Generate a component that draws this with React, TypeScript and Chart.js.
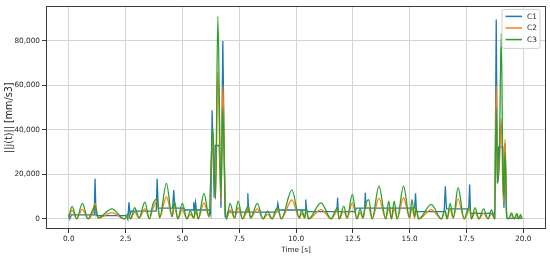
import React, { useEffect, useRef } from "react";
import { Chart, registerables } from "chart.js";
Chart.register(...registerables);

// ---- data ----
const humpTimes = [
  0.0, 0.15, 0.35, 0.6, 0.85, 1.05, 1.16, 1.3, 1.9, 2.45, 2.62, 2.72, 2.9, 3.1, 3.35, 3.55, 3.7, 3.89, 4.0, 4.3,
  4.55, 4.65, 4.8, 5.0, 5.2, 5.35, 5.5, 5.6, 5.7, 5.95, 6.18, 6.28, 6.34, 6.46, 6.56, 6.7, 6.78, 6.9, 6.95, 7.1,
  7.3, 7.45, 7.65, 7.8, 7.9, 8.0, 8.3, 8.55, 8.75, 8.95, 9.1, 9.2, 9.35, 9.82, 10.15, 10.25, 10.38, 10.45, 10.55, 11.1,
  11.55, 11.7, 11.82, 11.9, 12.1, 12.25, 12.48, 12.68, 12.82, 12.95, 13.05, 13.2, 13.35, 13.65, 13.95, 14.08, 14.2, 14.32, 14.45, 14.73,
  15.0, 15.1, 15.22, 15.28, 15.4, 15.95, 16.4, 16.55, 16.65, 16.78, 16.92, 17.13, 17.4, 17.55, 17.64, 17.72, 17.88, 18.05, 18.25, 18.45,
  18.6, 18.74, 18.81, 18.87, 18.95, 19.03, 19.12, 19.2, 19.27, 19.35, 19.48, 19.6, 19.72, 19.8, 19.88, 19.95,
];
const c3Values = [
  500, 5600, 0, 7000, 0, 4000, 6000, 500, 4500, 0, 2500, 0, 5000, 500, 7500, 0, 6500, 9000, 500, 16000,
  1000, 8000, 0, 7000, 0, 3500, 500, 5000, 0, 11500, 1000, 30000, 40700, 9000, 91000, 10000, 50000, 2000, 500, 7000,
  500, 8000, 0, 4000, 6000, 500, 7000, 0, 3500, 0, 4000, 5000, 0, 13000, 500, 4200, 500, 5000, 0, 7200,
  0, 3000, 5000, 0, 5700, 500, 11000, 0, 4500, 500, 6000, 8700, 0, 14700, 0, 8000, 0, 8000, 0, 14700,
  500, 8700, 1000, 5000, 0, 6500, 0, 4000, 0, 7000, 500, 14000, 0, 4000, 6000, 0, 5000, 0, 4500, 0,
  4000, 0, 50000, 16000, 30000, 83500, 10000, 30000, 1000, 0, 2700, 0, 2500, 0, 2000, 0,
];
const c2Values = [
  300, 3800, 0, 4300, 0, 2500, 7000, 300, 2800, 0, 1500, 0, 3000, 300, 4500, 0, 4500, 8000, 500, 10000,
  1000, 6000, 0, 4200, 0, 2000, 400, 3000, 0, 7200, 800, 26000, 36000, 9000, 66000, 8000, 60000, 2000, 300, 4000,
  300, 5000, 0, 2500, 5000, 300, 4500, 0, 2000, 0, 2500, 4000, 0, 8500, 300, 2500, 300, 4000, 0, 4200,
  0, 2000, 4500, 0, 3500, 300, 7200, 0, 2800, 300, 5000, 5000, 0, 9300, 0, 4800, 0, 4800, 0, 9500,
  300, 5000, 500, 4000, 0, 4200, 0, 3500, 0, 4500, 300, 9000, 0, 2500, 5000, 0, 3000, 0, 2500, 0,
  2300, 0, 60000, 16000, 25000, 45000, 8000, 35800, 1000, 0, 1700, 0, 1600, 0, 1200, 0,
];
const c1Times = [
  0.0, 0.05, 0.12, 1.12, 1.16, 1.2, 2.55, 2.6, 2.65, 2.7, 2.75, 3.85, 3.89, 3.94, 4.57, 4.62, 4.67, 5.05, 5.1, 5.48,
  5.5, 5.53, 5.58, 5.62, 6.2, 6.25, 6.31, 6.4, 6.45, 6.62, 6.7, 6.78, 6.88, 6.95, 7.0, 7.85, 7.88, 7.92, 9.15, 9.2,
  9.25, 10.4, 10.43, 10.47, 11.8, 11.83, 11.86, 12.6, 12.65, 13.02, 13.05, 13.08, 15.22, 15.26, 15.3, 16.52, 16.57, 16.62, 17.6, 17.64,
  17.68, 18.72, 18.75, 18.81, 18.86, 18.92, 19.1, 19.15, 19.2, 19.27, 19.32, 19.9,
];
const c1Values = [
  2000, 0, 1800, 1800, 18000, 1500, 1500, 0, 7500, 2000, 3500, 3500, 18000, 4800, 4800, 13000, 4800, 4800, 4000, 4000,
  7500, 4000, 7500, 4000, 4000, 2000, 48800, 9500, 33000, 33000, 5000, 80000, 1000, 0, 3000, 3000, 11500, 3000, 3000, 7000,
  4000, 4000, 8700, 3300, 3300, 9500, 3300, 3300, 4800, 4800, 11700, 4800, 4800, 11500, 3300, 3300, 14700, 4500, 4500, 15500,
  2500, 2500, 0, 89700, 16000, 32400, 32400, 5000, 34000, 500, 200, 200,
];
const yTickValues = [0, 20000, 40000, 60000, 80000];
const xTickValues = [0, 2.5, 5, 7.5, 10, 12.5, 15, 17.5, 20];
const seriesNames = ["C1", "C2", "C3"];
const seriesColors = ["#1f77b4", "#ff7f0e", "#2ca02c"];

const FONT_FAMILY = "'DejaVu Sans', sans-serif";
const TEXT_COLOR = "#262626";
const GRID_COLOR = "#d4d4d4";

const framePlugin = {
  id: "frame",
  afterDatasetsDraw(chart: any) {
    const { ctx, chartArea } = chart;
    ctx.save();
    ctx.strokeStyle = "#3a3a3a";
    ctx.lineWidth = 1;
    ctx.strokeRect(
      Math.round(chartArea.left) + 0.5,
      Math.round(chartArea.top) + 0.5,
      Math.round(chartArea.right - chartArea.left) - 1,
      Math.round(chartArea.bottom - chartArea.top) - 1
    );
    ctx.restore();
  },
};

const legendPlugin = {
  id: "mplLegend",
  afterDraw(chart: any) {
    const { ctx, chartArea } = chart;
    const w = 38;
    const h = 39;
    const x = chartArea.right - 6 - w;
    const y = chartArea.top + 3;
    ctx.save();
    ctx.beginPath();
    const r = 2;
    ctx.moveTo(x + r, y);
    ctx.lineTo(x + w - r, y);
    ctx.quadraticCurveTo(x + w, y, x + w, y + r);
    ctx.lineTo(x + w, y + h - r);
    ctx.quadraticCurveTo(x + w, y + h, x + w - r, y + h);
    ctx.lineTo(x + r, y + h);
    ctx.quadraticCurveTo(x, y + h, x, y + h - r);
    ctx.lineTo(x, y + r);
    ctx.quadraticCurveTo(x, y, x + r, y);
    ctx.closePath();
    ctx.fillStyle = "rgba(255,255,255,0.85)";
    ctx.fill();
    ctx.strokeStyle = "#d0d0d0";
    ctx.lineWidth = 1;
    ctx.stroke();
    ctx.font = `7.4px ${FONT_FAMILY}`;
    ctx.textBaseline = "middle";
    ctx.textAlign = "left";
    seriesNames.forEach((name, i) => {
      const ly = y + 7 + i * 11.6;
      ctx.strokeStyle = seriesColors[i];
      ctx.lineWidth = 1.5;
      ctx.beginPath();
      ctx.moveTo(x + 3.5, ly);
      ctx.lineTo(x + 20, ly);
      ctx.stroke();
      ctx.fillStyle = TEXT_COLOR;
      ctx.fillText(name, x + 25, ly + 0.5);
    });
    ctx.restore();
  },
};

export default function App() {
  const canvasRef = useRef<HTMLCanvasElement | null>(null);

  useEffect(() => {
    document.body.style.margin = "0";
    const canvas = canvasRef.current;
    if (!canvas) return;
    const font = { family: FONT_FAMILY, size: 7.3 };
    const hump = (vals: number[]) => humpTimes.map((t, i) => ({ x: t, y: vals[i] }));
    const chart = new Chart(canvas, {
      type: "line",
      data: {
        datasets: [
          {
            label: seriesNames[0],
            data: c1Times.map((t, i) => ({ x: t, y: c1Values[i] })),
            borderColor: seriesColors[0],
            borderWidth: 1.3,
            pointRadius: 0,
            tension: 0,
            order: 3,
          },
          {
            label: seriesNames[1],
            data: hump(c2Values),
            borderColor: seriesColors[1],
            borderWidth: 1.3,
            pointRadius: 0,
            cubicInterpolationMode: "monotone",
            order: 2,
          },
          {
            label: seriesNames[2],
            data: hump(c3Values),
            borderColor: seriesColors[2],
            borderWidth: 1.3,
            pointRadius: 0,
            cubicInterpolationMode: "monotone",
            order: 1,
          },
        ],
      },
      options: {
        animation: false,
        responsive: false,
        maintainAspectRatio: false,
        parsing: false as any,
        layout: { padding: { top: 5, right: 4, left: 0, bottom: 0 } },
        plugins: { legend: { display: false }, tooltip: { enabled: false } },
        elements: { point: { radius: 0 } },
        scales: {
          x: {
            type: "linear",
            min: -1,
            max: 21,
            afterBuildTicks: (s: any) => {
              s.ticks = xTickValues.map((v) => ({ value: v }));
            },
            afterFit: (s: any) => {
              s.height = 28;
            },
            ticks: {
              font,
              color: TEXT_COLOR,
              padding: 2,
              maxRotation: 0,
              autoSkip: false,
              callback: (v: any) => Number(v).toFixed(1),
            },
            grid: { color: GRID_COLOR, tickColor: "#3a3a3a", tickLength: 4, lineWidth: 1 },
            border: { display: false },
            title: { display: true, text: "Time [s]", font, color: TEXT_COLOR, padding: { top: 0, bottom: 3 } },
          },
          y: {
            type: "linear",
            min: -4550,
            max: 95550,
            afterBuildTicks: (s: any) => {
              s.ticks = yTickValues.map((v) => ({ value: v }));
            },
            afterFit: (s: any) => {
              s.width = 46;
            },
            ticks: {
              font,
              color: TEXT_COLOR,
              padding: 2,
              autoSkip: false,
              callback: (v: any) => Number(v).toLocaleString("en-US"),
            },
            grid: { color: GRID_COLOR, tickColor: "#3a3a3a", tickLength: 4, lineWidth: 1 },
            border: { display: false },
            title: {
              display: true,
              text: "||j(t)|| [mm/s3]",
              font: { family: FONT_FAMILY, size: 9.6 },
              color: TEXT_COLOR,
              padding: { top: 3.5, bottom: 0 },
            },
          },
        },
      },
      plugins: [framePlugin, legendPlugin],
    } as any);
    return () => chart.destroy();
  }, []);

  return (
    <div style={{ width: 550, height: 257 }}>
      <canvas ref={canvasRef} width={550} height={257} style={{ display: "block" }} />
    </div>
  );
}
